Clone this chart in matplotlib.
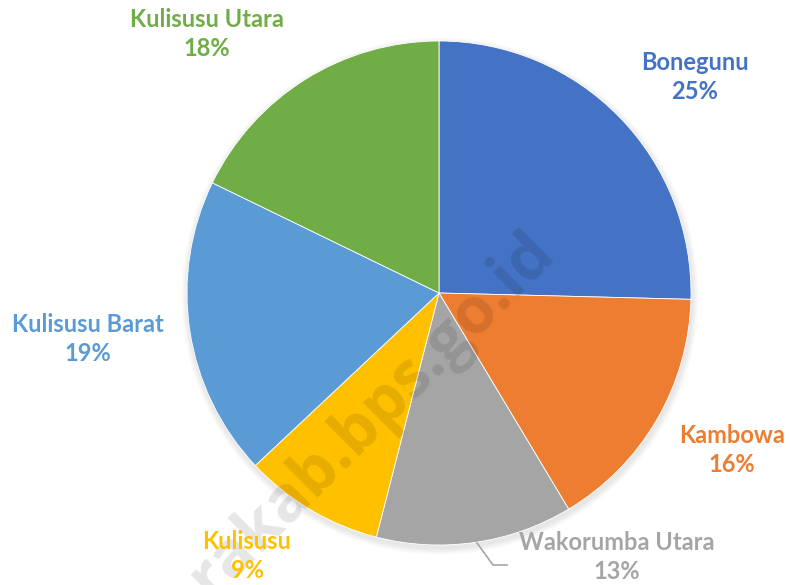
import matplotlib.pyplot as plt
from matplotlib.patches import Circle

# share of each district
districts = ['Bonegunu', 'Kambowa', 'Wakorumba Utara', 'Kulisusu',
             'Kulisusu Barat', 'Kulisusu Utara']
shares = [25.4, 16.0, 12.6, 9.0, 19.2, 17.8]
colors = ['#4472C4', '#ED7D31', '#A5A5A5', '#FFC000', '#5B9BD5', '#70AD47']

# label centres in pixel space (x, y from top)
label_pos = [(695, 77), (732, 450), (617, 557), (247, 556), (88, 339), (207, 34)]

W, H = 791, 585
fig = plt.figure(figsize=(W / 100, H / 100), dpi=100)
ax = fig.add_axes([0, 0, 1, 1])

cx, cy, r = 439, H - 293, 252

# soft shadow under the pie
for i in range(8):
    ax.add_patch(Circle((cx + 1, cy - 3), r + 1 + i * 0.8, color='black',
                        alpha=0.012, zorder=0, lw=0))

ax.pie(shares, colors=colors, startangle=90, counterclock=False,
       center=(cx, cy), radius=r, frame=True,
       wedgeprops=dict(edgecolor='white', linewidth=0.6))
ax.set_xlim(0, W)
ax.set_ylim(0, H)
ax.set_aspect('equal')
ax.axis('off')

# leader line for Wakorumba Utara
ax.plot([477, 493, 507], [H - 543, H - 565, H - 565], color='#A5A5A5',
        lw=1.2, zorder=3)

for name, val, col, (x, y) in zip(districts, shares, colors, label_pos):
    ax.text(x, H - y, f'{name}\n{round(val)}%', color=col, ha='center',
            va='center', fontsize=17, fontweight='bold', family='Lato',
            linespacing=1.3, zorder=5)

# watermark
ax.text(545, H - 243, 'utarakab.bps.go.id', rotation=45,
        rotation_mode='anchor', ha='right', va='center', fontsize=46,
        fontweight='bold', family='Open Sans', color='black', alpha=0.1,
        zorder=4)

fig.savefig('out.png', dpi=100)
